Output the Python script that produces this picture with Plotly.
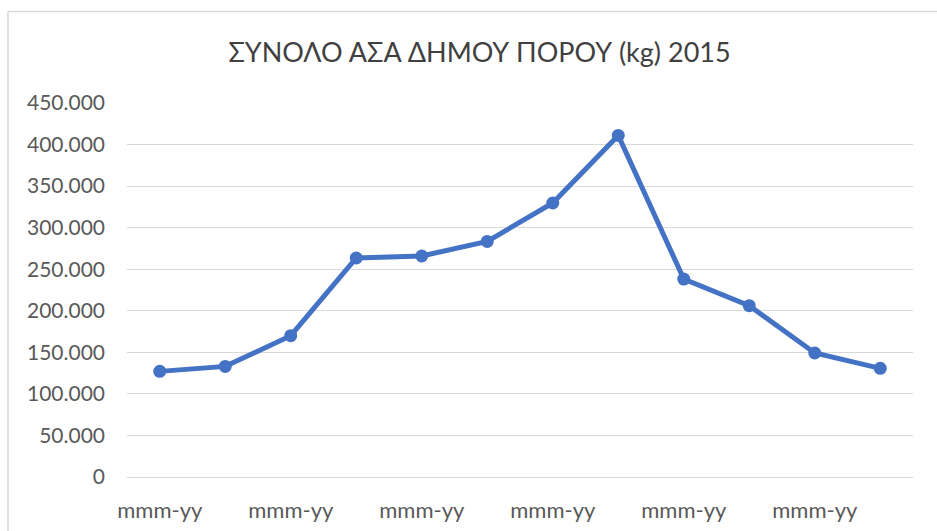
import plotly.graph_objects as go

title_text = "ΣΥΝΟΛΟ ΑΣΑ ΔΗΜΟΥ ΠΟΡΟΥ (kg) 2015"
months = list(range(12))
values = [127100, 133100, 170000, 263500, 265900, 283500, 329700, 411000, 238200, 206100, 149200, 130700]
tick_positions = [0, 2, 4, 6, 8, 10]
tick_labels = ["mmm-yy"] * 6
y_ticks = [0, 50000, 100000, 150000, 200000, 250000, 300000, 350000, 400000, 450000]

font_family = "Lato, Open Sans, sans-serif"
text_color = "#595959"

fig = go.Figure()
fig.add_trace(go.Scatter(
    x=months, y=values, mode="lines+markers",
    line=dict(color="#4472C4", width=5),
    marker=dict(color="#4472C4", size=13),
    showlegend=False, cliponaxis=False,
))

fig.update_layout(
    width=937, height=531,
    margin=dict(l=127, r=24, t=103, b=54, autoexpand=False),
    paper_bgcolor="white", plot_bgcolor="white",
    separators=",.",
    title=dict(text=title_text, x=479.5 / 937, xanchor="center", xref="container",
               y=1 - 53 / 531, yanchor="middle",
               font=dict(family=font_family, size=27, color="#404040")),
    font=dict(family=font_family, color=text_color, size=21),
    xaxis=dict(range=[-0.5, 11.5], tickvals=tick_positions, ticktext=tick_labels,
               showgrid=False, zeroline=False, showline=False, ticks="",
               automargin=False,
               ticklabelstandoff=18, tickfont=dict(size=22, color=text_color)),
    yaxis=dict(range=[0, 450000], tickvals=y_ticks, tickformat=",.0f",
               showgrid=True, gridcolor="#D9D9D9", gridwidth=1.3,
               zeroline=True, zerolinecolor="#D9D9D9", zerolinewidth=1.3,
               showline=False, ticks="",
               automargin=False,
               ticklabelstandoff=21, tickfont=dict(size=21, color=text_color)),
)

# chart-area border (partly cropped at the right and bottom)
fig.add_shape(type="line", xref="paper", yref="paper",
              x0=-0.1514, x1=-0.1514, y0=-1, y1=1.2447,
              line=dict(color="#D9D9D9", width=1.5))
fig.add_shape(type="line", xref="paper", yref="paper",
              x0=-0.1514, x1=2, y0=1.2447, y1=1.2447,
              line=dict(color="#D9D9D9", width=1.5))

fig.write_html("out.html", config={"displayModeBar": False},
               post_script="document.body.style.margin='0';document.body.style.overflow='hidden';")
